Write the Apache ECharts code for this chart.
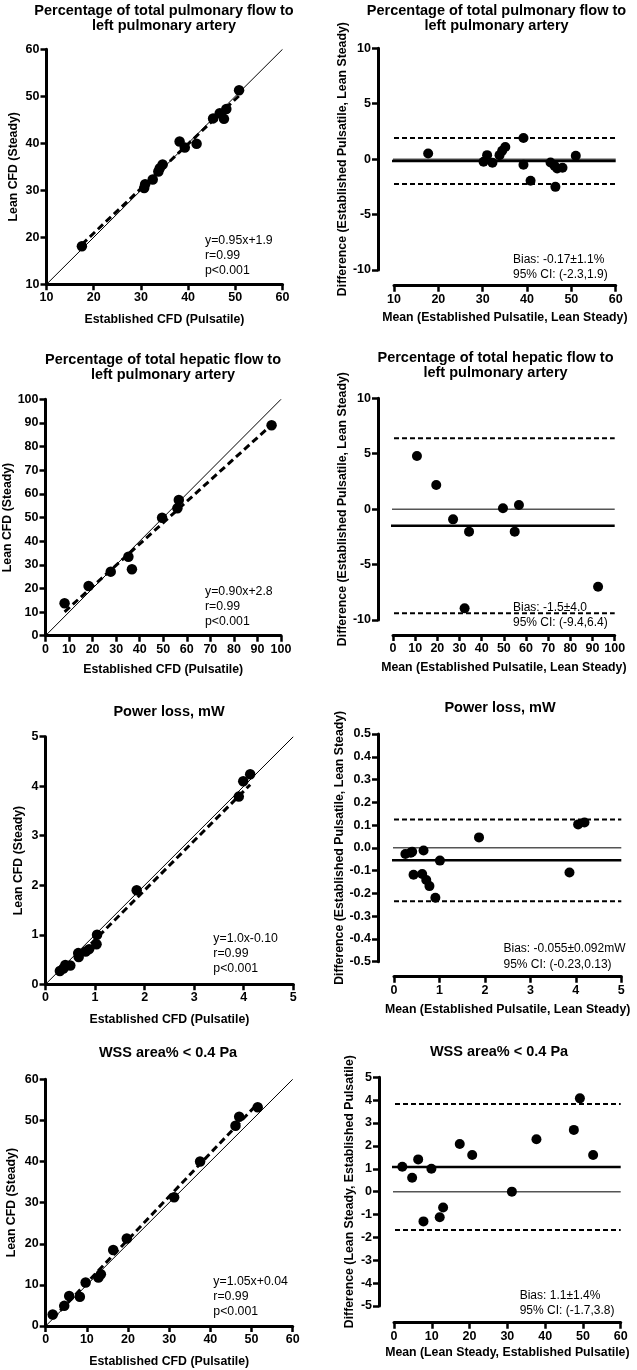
<!DOCTYPE html>
<html><head><meta charset="utf-8">
<script src="https://cdn.jsdelivr.net/npm/echarts@6/dist/echarts.min.js"></script>
<style>html,body{margin:0;padding:0;background:#fff}#c{width:637px;height:1370px}</style>
</head><body><div id="c"></div>
<script>
// ---------- DATA ----------
// Panel A: % pulmonary flow to LPA (scatter)
const pulmX = [17.5, 30.7, 30.9, 32.5, 33.7, 34.0, 34.6, 38.2, 39.3, 41.8, 45.3, 46.7, 47.6, 48.1, 50.8];
const pulmY = [18.1, 30.5, 31.3, 32.3, 34.0, 34.7, 35.5, 40.4, 39.1, 39.9, 45.3, 46.4, 45.2, 47.3, 51.3];
const pulmReg = [[17.5, 18.5], [51.0, 50.3]];
// Panel B: Bland-Altman pulmonary
const pulmBAMean = [17.7, 30.2, 31.0, 32.2, 33.8, 34.4, 35.1, 39.2, 39.2, 40.8, 45.3, 46.2, 46.4, 46.8, 48.0, 51.0];
const pulmBADiff = [0.51, -0.24, 0.36, -0.33, 0.36, 0.75, 1.1, 1.9, -0.5, -1.95, -0.3, -0.6, -2.5, -0.84, -0.78, 0.3];
const pulmBias = -0.17, pulmLoA = [-2.25, 1.9];
// Panel C: hepatic flow scatter
const hepX = [8.1, 18.3, 27.7, 35.2, 36.7, 49.5, 56.0, 56.6, 96.0];
const hepY = [13.7, 21.0, 27.1, 33.4, 28.1, 49.9, 53.9, 57.4, 89.0];
const hepReg = [[8.1, 10.1], [96.0, 89.2]];
// Panel D: hepatic BA
const hepBAMean = [10.8, 19.5, 27.1, 32.3, 34.3, 49.6, 54.9, 56.8, 92.5];
const hepBADiff = [4.8, 2.18, -0.92, -8.95, -2.03, 0.08, -2.03, 0.38, -7.0];
const hepBias = -1.5, hepLoA = [-9.4, 6.4];
// Panel E: power loss scatter
const pwrX = [0.29, 0.36, 0.40, 0.50, 0.66, 0.67, 0.81, 0.88, 1.03, 1.04, 1.84, 3.90, 3.99, 4.13];
const pwrY = [0.27, 0.32, 0.39, 0.38, 0.63, 0.55, 0.66, 0.71, 0.81, 1.00, 1.90, 3.79, 4.10, 4.24];
const pwrReg = [[0.29, 0.19], [4.13, 4.03]];
// Panel F: power loss BA
const pwrBAMean = [0.25, 0.37, 0.40, 0.65, 0.43, 0.62, 0.71, 0.78, 0.91, 1.01, 1.87, 3.86, 4.05, 4.19];
const pwrBADiff = [-0.027, -0.021, -0.017, -0.012, -0.118, -0.115, -0.141, -0.168, -0.219, -0.056, 0.046, -0.108, 0.103, 0.111];
const pwrBias = -0.055, pwrLoA = [-0.235, 0.125];
// Panel G: WSS scatter
const wssX = [1.7, 4.5, 5.7, 8.3, 9.7, 12.8, 13.4, 16.4, 19.7, 31.2, 37.5, 46.1, 47.0, 51.5];
const wssY = [2.8, 4.9, 7.3, 7.1, 10.6, 11.8, 12.6, 18.5, 21.3, 31.3, 40.0, 48.7, 50.9, 53.2];
const wssReg = [[1.7, 1.8], [51.5, 54.1]];
// Panel H: WSS BA
const wssBAMean = [2.2, 4.8, 6.4, 7.8, 9.9, 12.1, 13.0, 17.4, 20.7, 31.2, 37.7, 47.6, 49.2, 52.7];
const wssBADiff = [1.09, 0.61, 1.41, -1.30, 1.0, -1.12, -0.69, 2.08, 1.60, 0.0, 2.29, 2.70, 4.08, 1.60];
const wssBias = 1.08, wssLoA = [-1.68, 3.83];

// Titles / labels
const titles = [
  'Percentage of total pulmonary flow to\nleft pulmonary artery',
  'Percentage of total pulmonary flow to\nleft pulmonary artery',
  'Percentage of total hepatic flow to\nleft pulmonary artery',
  'Percentage of total hepatic flow to\nleft pulmonary artery',
  'Power loss, mW', 'Power loss, mW',
  'WSS area% < 0.4 Pa', 'WSS area% < 0.4 Pa'
];
const scatterXName = 'Established CFD (Pulsatile)';
const scatterYName = 'Lean CFD (Steady)';
const baXName1 = 'Mean (Established Pulsatile, Lean Steady)';
const baYName1 = 'Difference (Established Pulsatile, Lean Steady)';
const baXName2 = 'Mean (Lean Steady, Established Pulsatile)';
const baYName2 = 'Difference (Lean Steady, Established Pulsatile)';
const fitTexts = [
  'y=0.95x+1.9\nr=0.99\np<0.001',
  'y=0.90x+2.8\nr=0.99\np<0.001',
  'y=1.0x-0.10\nr=0.99\np<0.001',
  'y=1.05x+0.04\nr=0.99\np<0.001'
];
const biasTexts = [
  'Bias: -0.17\u00b11.1%\n95% CI: (-2.3,1.9)',
  'Bias: -1.5\u00b14.0\n95% CI: (-9.4,6.4)',
  'Bias: -0.055\u00b10.092mW\n95% CI: (-0.23,0.13)',
  'Bias: 1.1\u00b11.4%\n95% CI: (-1.7,3.8)'
];

// ---------- BUILD ----------
const FONT = '"Liberation Sans", Arial, Helvetica, sans-serif';
const grids = [], xAxes = [], yAxes = [], series = [], graphic = [];

function zip(a, b) { return a.map((v, i) => [v, b[i]]); }

function axis(min, max, interval, name, nameGap, offset, fmt) {
  return {
    type: 'value', min: min, max: max, interval: interval, offset: offset || 0,
    name: name, nameLocation: 'middle', nameGap: nameGap,
    nameTextStyle: { color: '#000', fontFamily: FONT, fontWeight: 'bold', fontSize: 12.3 },
    axisLine: { show: true, onZero: false, lineStyle: { color: '#000', width: 3, opacity: 1 } },
    axisTick: { show: true, length: 6, lineStyle: { color: '#000', width: 2.5, opacity: 1 } },
    axisLabel: { color: '#000', fontFamily: FONT, fontWeight: 'bold', fontSize: 12.5, margin: 7,
      formatter: fmt || (v => String(v)) },
    splitLine: { show: false }
  };
}

function text(x, y, str, font, align, lh) {
  graphic.push({ type: 'text', x: x, y: y, silent: true,
    style: { text: str, fill: '#000', font: font, align: align || 'left', verticalAlign: 'top', lineHeight: lh || 15 } });
}

function scatterPanel(g, rng, xs, ys, reg, xGap, yGap) {
  const i = grids.length;
  grids.push(g);
  xAxes.push(Object.assign(axis(rng[0], rng[1], rng[2], scatterXName, xGap), { gridIndex: i }));
  yAxes.push(Object.assign(axis(rng[0], rng[1], rng[2], scatterYName, yGap), { gridIndex: i }));
  series.push({ type: 'line', xAxisIndex: i, yAxisIndex: i, symbol: 'none', silent: true, z: 1,
    data: [[rng[0], rng[0]], [rng[1], rng[1]]], lineStyle: { color: '#000', width: 1 } });
  series.push({ type: 'line', xAxisIndex: i, yAxisIndex: i, symbol: 'none', silent: true, z: 2,
    data: reg, lineStyle: { color: '#000', width: 3, type: [7, 4] } });
  series.push({ type: 'scatter', xAxisIndex: i, yAxisIndex: i, symbolSize: 10.5, z: 3,
    itemStyle: { color: '#000', opacity: 1 }, data: zip(xs, ys) });
}

function baPanel(g, xr, yr, xs, ys, bias, loa, xName, yName, xGap, yGap, xOff, yOff, yFmt) {
  const i = grids.length;
  grids.push(g);
  xAxes.push(Object.assign(axis(xr[0], xr[1], xr[2], xName, xGap, xOff), { gridIndex: i }));
  yAxes.push(Object.assign(axis(yr[0], yr[1], yr[2], yName, yGap, yOff, yFmt), { gridIndex: i }));
  // horizontal lines start at the offset y axis line
  const xStart = xr[0] - yOff * (xr[1] - xr[0]) / g.width;
  const hl = (v, style, z) => series.push({ type: 'line', xAxisIndex: i, yAxisIndex: i, symbol: 'none',
    silent: true, clip: false, z: z, data: [[xStart, v], [xr[1], v]], lineStyle: style });
  hl(0, { color: '#555', width: 1.5 }, 1);
  hl(bias, { color: '#000', width: 2.5 }, 2);
  hl(loa[0], { color: '#000', width: 2, type: [5, 3] }, 2);
  hl(loa[1], { color: '#000', width: 2, type: [5, 3] }, 2);
  series.push({ type: 'scatter', xAxisIndex: i, yAxisIndex: i, symbolSize: 10, z: 3,
    itemStyle: { color: '#000', opacity: 1 }, data: zip(xs, ys) });
}

// Left column
scatterPanel({ left: 46.5, top: 49.3, width: 236, height: 235 }, [10, 60, 10], pulmX, pulmY, pulmReg, 29.5, 27.3);
scatterPanel({ left: 45.5, top: 399.3, width: 235.5, height: 236.4 }, [0, 100, 10], hepX, hepY, hepReg, 28, 28);
scatterPanel({ left: 45.5, top: 736.7, width: 247.8, height: 247.6 }, [0, 5, 1], pwrX, pwrY, pwrReg, 29.5, 21);
scatterPanel({ left: 45.7, top: 1079.3, width: 247, height: 246.7 }, [0, 60, 10], wssX, wssY, wssReg, 29.5, 27.8);
// Right column
baPanel({ left: 394, top: 48.3, width: 221.7, height: 221.7 }, [10, 60, 10], [-10, 10, 5],
  pulmBAMean, pulmBADiff, pulmBias, pulmLoA, baXName1, baYName1, 26.4, 28.8, 15.7, 16);
baPanel({ left: 393, top: 398.3, width: 221.7, height: 221.7 }, [0, 100, 10], [-10, 10, 5],
  hepBAMean, hepBADiff, hepBias, hepLoA, baXName1, baYName1, 27, 28.8, 15, 15);
baPanel({ left: 394, top: 734, width: 227.3, height: 227.7 }, [0, 5, 1], [-0.5, 0.5, 0.1],
  pwrBAMean, pwrBADiff, pwrBias, pwrLoA, baXName1, baYName1, 27, 28.8, 15, 16, v => v.toFixed(1));
baPanel({ left: 394, top: 1077.3, width: 226.7, height: 228.7 }, [0, 60, 10], [-5, 5, 1],
  wssBAMean, wssBADiff, wssBias, wssLoA, baXName2, baYName2, 24.4, 23, 16.7, 15);

// Titles
const TF = 'bold 14.5px ' + FONT;
const titlePos = [[164, 3], [496.5, 3], [163, 352.5], [495.5, 350.5], [169, 704], [500, 700.5], [168, 1045], [499, 1044]];
titles.forEach((t, k) => text(titlePos[k][0], titlePos[k][1], t, TF, 'center', 15));
// Fit annotations
const AF = '12.3px ' + FONT;
const fitPos = [[205, 233], [205, 584.5], [213.3, 931], [213.3, 1274.5]];
fitTexts.forEach((t, k) => text(fitPos[k][0], fitPos[k][1], t, AF, 'left', 15));
const biasPos = [[513, 251.5], [513, 599.5], [503.5, 941], [519.7, 1287.5]];
biasTexts.forEach((t, k) => text(biasPos[k][0], biasPos[k][1], t, '12px ' + FONT, 'left', 15.5));

const chart = echarts.init(document.getElementById('c'), null, { renderer: 'canvas' });
chart.setOption({
  animation: false, backgroundColor: '#fff',
  grid: grids, xAxis: xAxes, yAxis: yAxes, series: series, graphic: graphic
});
</script></body></html>
